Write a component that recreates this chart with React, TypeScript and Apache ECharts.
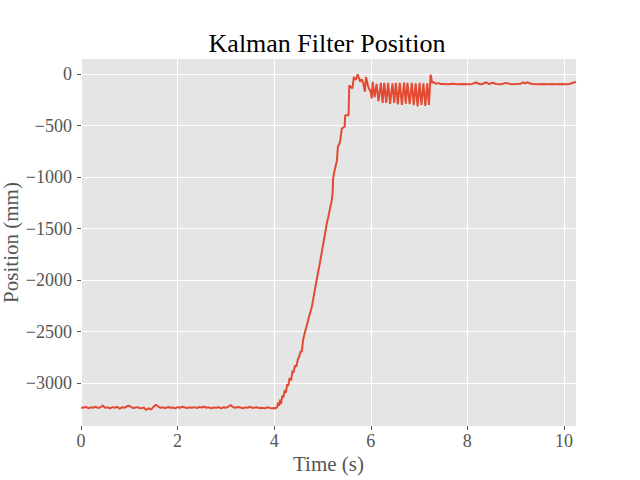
import { useEffect, useRef } from "react";
import * as echarts from "echarts";

// Resting segment (s, mm)
const restTime = [
  0.0, 0.05, 0.1, 0.15, 0.2, 0.25, 0.3, 0.35, 0.4, 0.45, 0.5, 0.55, 0.6, 0.65, 0.7, 0.75, 0.8, 0.85, 0.9, 0.95,
  1.0, 1.05, 1.1, 1.15, 1.2, 1.25, 1.3, 1.35, 1.4, 1.45, 1.5, 1.55, 1.6, 1.65, 1.7, 1.75, 1.8, 1.85, 1.9, 1.95,
  2.0, 2.05, 2.1, 2.15, 2.2, 2.25, 2.3, 2.35, 2.4, 2.45, 2.5, 2.55, 2.6, 2.65, 2.7, 2.75, 2.8, 2.85, 2.9, 2.95,
  3.0, 3.05, 3.1, 3.15, 3.2, 3.25, 3.3, 3.35, 3.4, 3.45, 3.5, 3.55, 3.6, 3.65, 3.7, 3.75, 3.8, 3.85, 3.9, 3.95,
  4.0, 4.03,
];
const restPos = [
  -3240, -3238, -3232, -3244, -3236, -3240, -3228, -3242, -3236, -3218, -3240, -3236, -3246, -3234, -3240, -3230, -3248, -3236, -3240, -3226,
  -3220, -3238, -3242, -3234, -3240, -3246, -3236, -3262, -3244, -3258, -3232, -3210, -3228, -3240, -3236, -3244, -3232, -3240, -3238, -3246,
  -3234, -3240, -3230, -3238, -3242, -3236, -3240, -3234, -3244, -3232, -3238, -3230, -3240, -3236, -3244, -3238, -3240, -3234, -3246, -3236,
  -3240, -3228, -3214, -3236, -3240, -3232, -3238, -3244, -3236, -3240, -3230, -3242, -3238, -3236, -3244, -3240, -3246, -3236, -3240, -3246,
  -3242, -3244,
];

// Rising segment
const riseTime = [
  4.06, 4.08, 4.1, 4.12, 4.14, 4.17, 4.19, 4.22, 4.24, 4.27, 4.29, 4.32, 4.35, 4.38, 4.4, 4.43, 4.46, 4.49, 4.52, 4.55,
  4.57, 4.6, 4.63, 4.67, 4.72, 4.78, 4.83, 4.88, 4.92, 4.96, 5.0, 5.05, 5.09, 5.12, 5.15, 5.19, 5.21, 5.22, 5.24, 5.27,
  5.3, 5.32, 5.35, 5.37, 5.4, 5.43, 5.46, 5.47, 5.54, 5.555, 5.62, 5.65, 5.69, 5.73, 5.78, 5.81, 5.845, 5.88, 5.9, 5.94,
  5.96, 6.0, 6.02,
];
const risePos = [
  -3236, -3190, -3222, -3160, -3205, -3120, -3140, -3070, -3095, -3010, -3030, -2950, -2975, -2880, -2900, -2830, -2840, -2770, -2740, -2690,
  -2700, -2580, -2520, -2450, -2360, -2260, -2130, -2000, -1900, -1800, -1690, -1560, -1450, -1390, -1320, -1230, -1160, -1020, -960, -900,
  -840, -700, -680, -640, -530, -520, -510, -400, -400, -110, -140, -28, -58, -2, -75, -50, -90, -172, -28, -107,
  -139, -172, -236,
];

// Oscillating segment
const oscTime = [
  6.04, 6.08, 6.12, 6.16, 6.21, 6.245, 6.28, 6.32, 6.36, 6.4, 6.45, 6.485, 6.52, 6.56, 6.6, 6.645, 6.69, 6.725, 6.76, 6.805,
  6.85, 6.89, 6.93, 6.97, 7.01, 7.05, 7.09, 7.13, 7.17, 7.205, 7.24, 7.27, 7.31, 7.35, 7.4, 7.45,
];
const oscPos = [
  -75, -225, -95, -262, -85, -280, -85, -280, -85, -290, -90, -280, -85, -295, -85, -300, -82, -288, -85, -292,
  -85, -302, -90, -315, -85, -300, -90, -310, -90, -300, -5, -85, -80, -95, -88, -97,
];

// Settled segment
const tailTime = [
  7.5, 7.6, 7.7, 7.8, 7.9, 8.0, 8.1, 8.18, 8.25, 8.3, 8.39, 8.45, 8.52, 8.6, 8.7, 8.8, 8.9, 9.0, 9.1, 9.15,
  9.2, 9.25, 9.3, 9.35, 9.45, 9.55, 9.65, 9.75, 9.85, 9.95, 10.05, 10.12, 10.18, 10.25,
];
const tailPos = [
  -96, -98, -95, -99, -97, -98, -96, -82, -97, -99, -80, -98, -84, -97, -99, -86, -98, -97, -95, -82,
  -90, -80, -92, -97, -98, -96, -99, -97, -98, -96, -99, -97, -85, -78,
];

const xTicks = [0, 2, 4, 6, 8, 10];
const yTicks = [-3000, -2500, -2000, -1500, -1000, -500, 0];

const SERIF = "'Liberation Serif', 'DejaVu Serif', serif";

export default function App() {
  const ref = useRef<HTMLDivElement>(null);
  useEffect(() => {
    if (!ref.current) return;
    const chart = echarts.init(ref.current, null, { renderer: "svg" });
    const time = [...restTime, ...riseTime, ...oscTime, ...tailTime];
    const pos = [...restPos, ...risePos, ...oscPos, ...tailPos];
    const data = time.map((t, i) => [t, pos[i]]);
    const fmt = (v: number) => String(v).replace("-", "\u2212");
    chart.setOption({
      animation: false,
      backgroundColor: "#ffffff",
      title: {
        text: "Kalman Filter Position",
        left: 322,
        top: 25,
        textAlign: "center",
        textStyle: { fontFamily: SERIF, fontSize: 26, fontWeight: "normal", color: "#000000" },
      },
      grid: {
        left: 81,
        right: 64,
        top: 59,
        bottom: 54,
        outerBoundsMode: "none",
        containLabel: false,
        show: true,
        backgroundColor: "#E5E5E5",
        borderWidth: 0,
      },
      xAxis: {
        type: "value",
        min: 0,
        max: 10.25,
        name: "Time (s)",
        nameLocation: "middle",
        nameGap: 27,
        nameMoveOverlap: false,
        nameTextStyle: { fontFamily: SERIF, fontSize: 21, color: "#555555" },
        axisLine: { show: false, onZero: false },
        axisTick: { show: true, length: 4, customValues: xTicks, lineStyle: { color: "#555555", width: 1 } },
        axisLabel: {
          customValues: xTicks,
          margin: 6,
          fontFamily: SERIF,
          fontSize: 18,
          color: "#555555",
          formatter: fmt,
        },
        splitLine: { show: true, lineStyle: { color: "#ffffff", width: 1 } },
      },
      yAxis: {
        type: "value",
        min: -3417,
        max: 146,
        name: "Position (mm)",
        nameLocation: "middle",
        nameGap: 60,
        nameMoveOverlap: false,
        nameTextStyle: { fontFamily: SERIF, fontSize: 21, color: "#555555" },
        axisLine: { show: false, onZero: false },
        axisTick: { show: true, length: 4, customValues: yTicks, lineStyle: { color: "#555555", width: 1 } },
        axisLabel: {
          customValues: yTicks,
          margin: 9,
          fontFamily: SERIF,
          fontSize: 18,
          color: "#555555",
          formatter: fmt,
        },
        splitLine: { show: true, lineStyle: { color: "#ffffff", width: 1 } },
      },
      series: [
        {
          type: "line",
          data,
          showSymbol: false,
          symbol: "none",
          lineStyle: { color: "#E24A33", width: 2 },
          itemStyle: { color: "#E24A33" },
        },
      ],
    });
    return () => chart.dispose();
  }, []);
  return (
    <div
      ref={ref}
      style={{ position: "absolute", left: 0, top: 0, width: 640, height: 480 }}
    />
  );
}
